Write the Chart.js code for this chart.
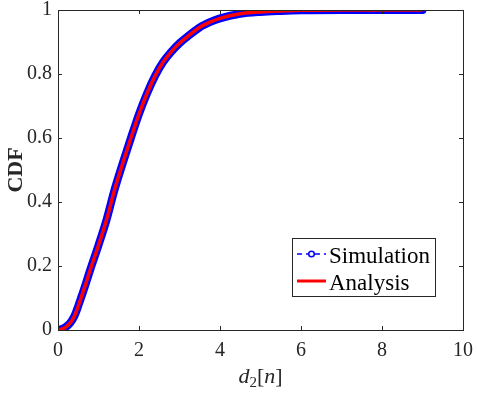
<!DOCTYPE html>
<html>
<head>
<meta charset="utf-8">
<script src="https://cdn.jsdelivr.net/npm/chart.js@4.4.0/dist/chart.umd.min.js"></script>
<style>
  html, body { margin: 0; padding: 0; background: #fff; }
  #wrap { width: 477px; height: 395px; position: relative; }
</style>
</head>
<body>
<div id="wrap"><canvas id="cdfChart" width="477" height="395"></canvas></div>
<script>
// ── Data ──────────────────────────────────────────────────────────────────────
const d2Values  = [0, 0.1, 0.2, 0.3, 0.4, 0.5, 0.6, 0.7, 0.8, 1.0, 1.2, 1.4, 1.6, 1.8, 2.0, 2.2, 2.4, 2.6, 2.8, 3.0, 3.25, 3.5, 3.75, 4.0, 4.5, 5.0, 5.5, 6.0, 7.0, 8.0, 9.0];
const simCdf    = [0, 0.003, 0.01, 0.022, 0.042, 0.075, 0.112, 0.15, 0.19, 0.265, 0.345, 0.44, 0.522, 0.6, 0.675, 0.74, 0.795, 0.838, 0.87, 0.896, 0.922, 0.946, 0.962, 0.974, 0.988, 0.994, 0.997, 0.999, 1.0, 1.0, 1.0];
const anaCdf    = [0, 0.003, 0.01, 0.022, 0.042, 0.075, 0.112, 0.15, 0.19, 0.265, 0.345, 0.44, 0.522, 0.6, 0.675, 0.74, 0.795, 0.838, 0.87, 0.896, 0.922, 0.946, 0.962, 0.974, 0.988, 0.994, 0.997, 0.999, 1.0, 1.0, 1.0];
const xTicks    = [0, 2, 4, 6, 8, 10];
const yTicks    = [0, 0.2, 0.4, 0.6, 0.8, 1];
const seriesNames = ["Simulation", "Analysis"];

const FONT = "'Liberation Serif', 'Times New Roman', serif";
const AXIS = "#262626";

const toPoints = (xs, ys) => xs.map((x, i) => ({ x: x, y: ys[i] }));

// ── Frame, inward ticks, axis titles and legend (MATLAB look) ────────────────
const matlabDecor = {
    id: "matlabDecor",
    afterDraw(chart) {
        const c = chart.ctx;
        const a = chart.chartArea;
        const xs = chart.scales.x, ys = chart.scales.y;
        c.save();

        // box
        c.strokeStyle = AXIS;
        c.lineWidth = 1;
        c.strokeRect(Math.round(a.left) + 0.5, Math.round(a.top) + 0.5,
                     Math.round(a.right - a.left), Math.round(a.bottom - a.top));

        // inward ticks on all sides
        const tl = 4;
        c.beginPath();
        xTicks.forEach(v => {
            const px = Math.round(xs.getPixelForValue(v)) + 0.5;
            c.moveTo(px, a.bottom); c.lineTo(px, a.bottom - tl);
            c.moveTo(px, a.top);    c.lineTo(px, a.top + tl);
        });
        yTicks.forEach(v => {
            const py = Math.round(ys.getPixelForValue(v)) + 0.5;
            c.moveTo(a.left, py);  c.lineTo(a.left + tl, py);
            c.moveTo(a.right, py); c.lineTo(a.right - tl, py);
        });
        c.stroke();

        // x title: d_2[n]
        c.fillStyle = AXIS;
        c.textBaseline = "alphabetic";
        c.textAlign = "left";
        const parts = [
            { t: "d", f: "italic 22px " + FONT, dy: 0 },
            { t: "2", f: "15px " + FONT, dy: 4 },
            { t: "[", f: "22px " + FONT, dy: 0 },
            { t: "n", f: "italic 22px " + FONT, dy: 0 },
            { t: "]", f: "22px " + FONT, dy: 0 }
        ];
        let total = 0;
        parts.forEach(p => { c.font = p.f; p.w = c.measureText(p.t).width; total += p.w; });
        let tx = (a.left + a.right) / 2 - total / 2;
        const baseY = 383;
        parts.forEach(p => { c.font = p.f; c.fillText(p.t, tx, baseY + p.dy); tx += p.w; });

        // y title
        c.save();
        c.translate(16, (a.top + a.bottom) / 2);
        c.rotate(-Math.PI / 2);
        c.font = "bold 22px " + FONT;
        c.textAlign = "center";
        c.textBaseline = "middle";
        c.fillText("CDF", 0, 0);
        c.restore();

        // legend
        const lx = 292.5, ly = 238.5, lw = 143, lh = 58;
        c.fillStyle = "#fff";
        c.fillRect(lx, ly, lw, lh);
        c.strokeStyle = AXIS;
        c.lineWidth = 1;
        c.strokeRect(lx, ly, lw, lh);

        const sy = 254, ay = 281;
        c.strokeStyle = "#0000ff";
        c.lineWidth = 1.5;
        c.setLineDash([5, 4]);
        c.beginPath(); c.moveTo(297, sy); c.lineTo(326, sy); c.stroke();
        c.setLineDash([]);
        c.fillStyle = "#fff";
        c.beginPath(); c.arc(311.5, sy, 2.8, 0, Math.PI * 2); c.fill(); c.stroke();

        c.strokeStyle = "#ff0000";
        c.lineWidth = 3;
        c.beginPath(); c.moveTo(297, ay); c.lineTo(326, ay); c.stroke();

        c.fillStyle = "#000";
        c.font = "23px " + FONT;
        c.textAlign = "left";
        c.textBaseline = "alphabetic";
        c.fillText(seriesNames[0], 329, 263);
        c.fillText(seriesNames[1], 329, 290);

        c.restore();
    }
};

// ── Chart setup ───────────────────────────────────────────────────────────────
const ctx = document.getElementById("cdfChart").getContext("2d");
const chart = new Chart(ctx, {
    type: "line",
    data: {
        datasets: [
            {
                label: seriesNames[0],
                data: toPoints(d2Values, simCdf),
                borderColor: "#0000ff",
                backgroundColor: "#0000ff",
                borderWidth: 8,
                borderCapStyle: "round",
                borderJoinStyle: "round",
                pointRadius: 0,
                cubicInterpolationMode: "monotone",
                order: 2
            },
            {
                label: seriesNames[1],
                data: toPoints(d2Values, anaCdf),
                borderColor: "#ff0000",
                backgroundColor: "#ff0000",
                borderWidth: 3.5,
                pointRadius: 0,
                cubicInterpolationMode: "monotone",
                order: 1
            }
        ]
    },
    options: {
        responsive: false,
        animation: false,
        events: [],
        layout: { padding: { top: 10, right: 14, left: 0, bottom: 0 } },
        plugins: {
            legend: { display: false },
            tooltip: { enabled: false }
        },
        scales: {
            x: {
                type: "linear",
                min: 0, max: 10,
                afterBuildTicks: s => { s.ticks = xTicks.map(v => ({ value: v })); },
                afterFit: s => { s.height = 65; s.paddingLeft = 0; s.paddingRight = 0; },
                grid: { display: false, drawTicks: false },
                border: { display: false },
                ticks: {
                    color: AXIS,
                    padding: 9,
                    font: { family: FONT, size: 20 },
                    maxRotation: 0,
                    callback: v => String(v)
                }
            },
            y: {
                min: 0, max: 1,
                afterBuildTicks: s => { s.ticks = yTicks.map(v => ({ value: v })); },
                afterFit: s => { s.width = 58; s.paddingTop = 0; s.paddingBottom = 0; },
                grid: { display: false, drawTicks: false },
                border: { display: false },
                ticks: {
                    color: AXIS,
                    padding: 6,
                    font: { family: FONT, size: 20 },
                    callback: v => String(+v.toFixed(1))
                }
            }
        }
    },
    plugins: [matlabDecor]
});
</script>
</body>
</html>
